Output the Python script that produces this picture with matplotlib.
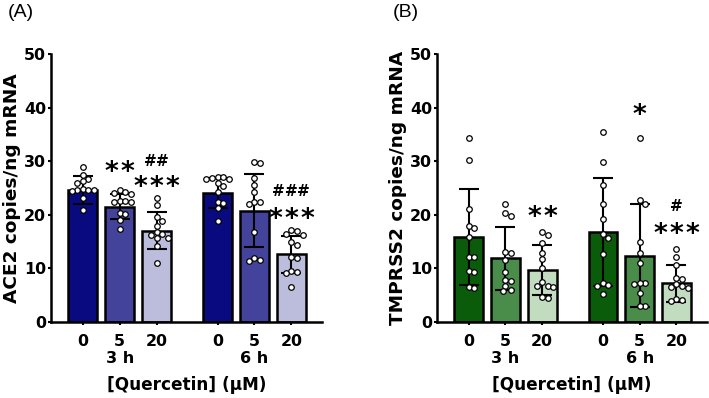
import numpy as np
import matplotlib.pyplot as plt

plt.rcParams['font.family'] = ['DejaVu Sans']

# doses and time groups
doses = ['0', '5', '20', '0', '5', '20']
times = ['3 h', '6 h']

# ACE2 (panel A)
ace2_mean = [24.7, 21.5, 17.0, 24.1, 20.8, 12.6]
ace2_sd = [2.6, 2.3, 3.45, 2.8, 6.8, 3.4]
ace2_points = [
    [29.0, 27.4, 26.6, 26.3, 26.0, 24.9, 24.6, 24.6, 24.7, 24.5, 23.1, 20.9],
    [24.7, 24.3, 24.0, 23.8, 22.6, 22.5, 22.4, 22.3, 20.3, 20.1, 19.0, 17.4],
    [23.1, 21.8, 19.6, 18.8, 18.0, 16.8, 16.4, 16.2, 15.6, 15.6, 14.2, 11.1],
    [27.1, 27.0, 26.9, 26.6, 26.6, 25.9, 25.3, 24.2, 22.4, 22.2, 21.2, 18.9],
    [29.9, 29.6, 26.8, 25.6, 24.3, 22.3, 22.4, 22.1, 16.7, 11.9, 11.6, 11.3],
    [17.2, 17.0, 16.4, 16.2, 15.0, 14.4, 12.2, 12.0, 9.6, 9.4, 9.2, 6.6],
]

# TMPRSS2 (panel B)
tmp_mean = [15.9, 11.9, 9.7, 16.8, 12.4, 7.2]
tmp_sd = [9.0, 5.9, 4.6, 10.0, 9.6, 3.5]
tmp_points = [
    [34.3, 30.2, 21.1, 18.0, 17.6, 15.9, 12.2, 12.1, 9.5, 9.3, 6.6, 6.4],
    [22.1, 20.4, 19.8, 13.1, 12.9, 11.6, 9.4, 7.9, 7.6, 6.8, 6.0, 5.8],
    [16.8, 16.2, 14.8, 12.9, 11.8, 10.0, 7.5, 6.8, 6.7, 6.6, 4.6, 4.5],
    [35.5, 29.9, 25.6, 22.1, 19.2, 16.4, 15.6, 12.6, 7.3, 6.9, 6.7, 5.2],
    [34.3, 22.8, 22.1, 15.0, 12.9, 11.1, 7.3, 7.3, 7.1, 5.5, 2.9, 2.9],
    [13.7, 12.1, 10.6, 8.2, 8.0, 7.0, 6.8, 6.5, 6.4, 4.3, 4.1, 3.9],
]

# significance marks: (bar index, text, y centre)
ace2_marks = [(1, '**', 29.3), (2, '##', 30.2), (2, '***', 26.5),
              (5, '###', 24.6), (5, '***', 20.6)]
tmp_marks = [(2, '**', 21.0), (4, '*', 39.9), (5, '#', 21.8), (5, '***', 17.8)]

blues = ['#0a0a80', '#43439c', '#bcbcdc']
greens = ['#0a5c0a', '#4a8c4a', '#c2dcc0']

xpos = np.array([0, 1, 2, 3.65, 4.65, 5.65])


def swarm(vals, ppx, ppy, d=5.6):
    # simple beeswarm: place points sideways until they do not overlap
    order = np.argsort(vals)[::-1]
    placed = []
    offs = np.zeros(len(vals))
    for i in order:
        y = vals[i] * ppy
        for k in range(0, 12):
            cands = [0.0] if k == 0 else [k * d / 2, -k * d / 2]
            ok = None
            for c in cands:
                if all((c - px) ** 2 + (y - py) ** 2 >= (d * 0.98) ** 2 for px, py in placed):
                    ok = c
                    break
            if ok is not None:
                break
        placed.append((ok, y))
        offs[i] = ok / ppx
    return offs


def panel(ax, means, sds, pts, colors, marks, ylabel):
    ax.set_xlim(-0.86, 6.48)
    ax.set_ylim(0, 50)
    bbox = ax.get_window_extent()
    ppx = bbox.width / (6.48 + 0.86)
    ppy = bbox.height / 50.0

    cols = colors + colors
    ax.bar(xpos, means, width=0.78, color=cols, edgecolor='black', linewidth=1.8, zorder=2)
    ax.errorbar(xpos, means, yerr=sds, fmt='none', ecolor='black', elinewidth=1.5,
                capsize=7, capthick=1.5, zorder=3)
    for i, vals in enumerate(pts):
        v = np.array(vals)
        ax.plot(xpos[i] + swarm(v, ppx, ppy), v, 'o', ms=4.0, mfc='white', mec='black',
                mew=0.9, zorder=4, clip_on=False)

    # each symbol drawn on its own so the spacing matches
    for i, txt, y in marks:
        if txt.startswith('#'):
            fs, k, step = 11, 0.36, 9.0
        else:
            fs, k, step = 19, 0.58, 11.5
        n = len(txt)
        for j, ch in enumerate(txt):
            dx = (j - (n - 1) / 2) * step
            ax.annotate(ch, (xpos[i], y), xytext=(dx, -k * fs), textcoords='offset points',
                        ha='center', va='baseline', fontsize=fs, fontweight='bold')

    ax.spines['top'].set_visible(False)
    ax.spines['right'].set_visible(False)
    ax.spines['left'].set_linewidth(1.8)
    ax.spines['bottom'].set_linewidth(1.8)
    ax.set_yticks([0, 10, 20, 30, 40, 50])
    ax.set_xticks(xpos)
    ax.set_xticklabels(doses)
    ax.tick_params(axis='y', length=2.5, width=1.5, pad=1, labelsize=11.4)
    ax.tick_params(axis='x', length=2.5, width=1.5, pad=6, labelsize=11.4)
    for lab in ax.get_xticklabels() + ax.get_yticklabels():
        lab.set_fontweight('bold')

    tr = ax.get_xaxis_transform()
    ax.text(xpos[1], -0.138, times[0], transform=tr, ha='center', va='center',
            fontsize=11.5, fontweight='bold')
    ax.text(xpos[4], -0.138, times[1], transform=tr, ha='center', va='center',
            fontsize=11.5, fontweight='bold')
    ax.text(0.5, -0.236, '[Quercetin] (µM)', transform=ax.transAxes, ha='center',
            va='center', fontsize=12.2, fontweight='bold')
    ax.text(-0.145, 0.5, ylabel, transform=ax.transAxes, rotation=90, ha='center',
            va='center', fontsize=13.3, fontweight='bold')


fig = plt.figure(figsize=(7.09, 3.98), dpi=100)
axA = fig.add_axes([51 / 709, 1 - 322 / 398, 271 / 709, 268 / 398])
axB = fig.add_axes([437 / 709, 1 - 322 / 398, 270 / 709, 268 / 398])

panel(axA, ace2_mean, ace2_sd, ace2_points, blues, ace2_marks, 'ACE2 copies/ng mRNA')
panel(axB, tmp_mean, tmp_sd, tmp_points, greens, tmp_marks, 'TMPRSS2 copies/ng mRNA')

fig.text(8 / 709, 1 - 4 / 398, '(A)', ha='left', va='top', fontsize=14,
         family=['Liberation Sans', 'DejaVu Sans'])
fig.text(393 / 709, 1 - 4 / 398, '(B)', ha='left', va='top', fontsize=14,
         family=['Liberation Sans', 'DejaVu Sans'])

fig.savefig('out.png', dpi=100)
